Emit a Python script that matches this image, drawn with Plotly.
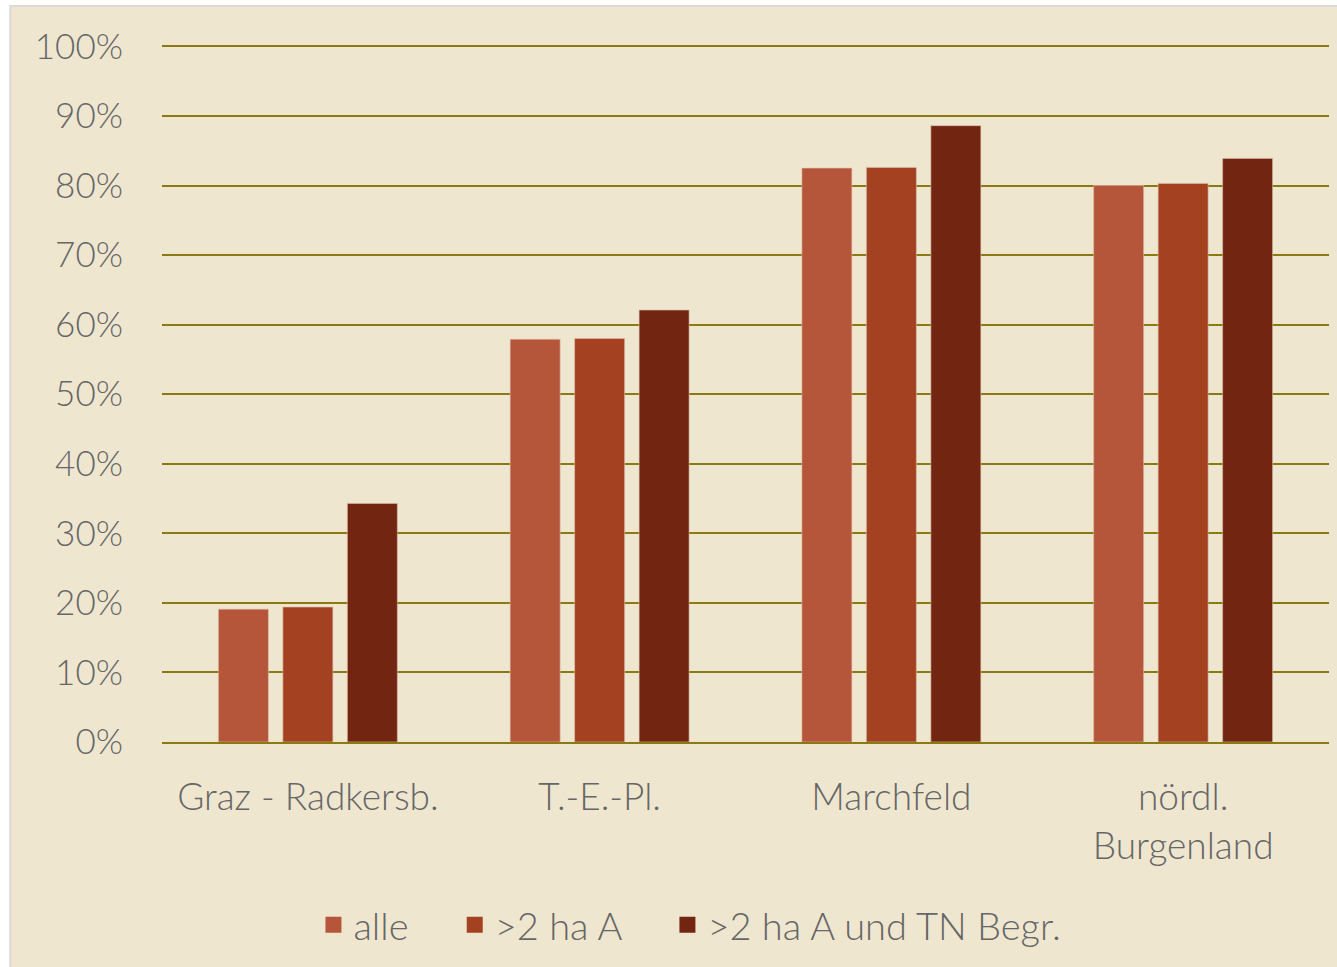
import plotly.graph_objects as go

categories = ["Graz - Radkersb.", "T.-E.-Pl.", "Marchfeld", "nördl.<br>Burgenland"]
alle = [19.1, 57.9, 82.5, 80.0]
ha2 = [19.4, 58.0, 82.6, 80.3]
tn = [34.3, 62.1, 88.6, 83.9]
series_names = ["alle", ">2 ha A", ">2 ha A und TN Begr."]
colors = ["#B5553A", "#A34120", "#722612"]
y_ticks = list(range(0, 101, 10))
y_ticktext = [f"{v}%" for v in y_ticks]

fig = go.Figure()
for name, vals, col in zip(series_names, [alle, ha2, tn], colors):
    fig.add_trace(go.Bar(x=categories, y=vals, name=name, marker_color=col,
                         marker_line_color="rgba(220,190,170,0.6)", marker_line_width=1,
                         showlegend=False))
# legend entries with square swatches
pads = ["\u00a0\u00a0\u00a0\u00a0", "\u00a0\u00a0\u00a0\u00a0", ""]
for name, col, pad in zip(series_names, colors, pads):
    fig.add_trace(go.Scatter(x=[None], y=[None], mode="markers", name=name + pad,
                             marker=dict(symbol="square", size=24, color=col)))

font_fam = "Lato, 'Open Sans', sans-serif"
fig.update_layout(
    width=1337, height=967,
    margin=dict(l=162, r=8, t=45, b=225),
    paper_bgcolor="white", plot_bgcolor="rgba(0,0,0,0)",
    barmode="group", bargap=0.337, bargroupgap=0.225,
    font=dict(family=font_fam, color="#666666", weight=300),
    showlegend=True,
    legend=dict(orientation="h", x=0.4524, xanchor="center", y=-0.2626, yanchor="middle",
                font=dict(size=38, color="#666666", weight=300), bgcolor="rgba(0,0,0,0)",
                itemsizing="trace", itemwidth=30),
    shapes=[dict(type="rect", xref="paper", yref="paper", x0=-0.130, x1=1.0094,
                 y0=-0.327, y1=1.056, fillcolor="#EFE6D0",
                 line=dict(color="#D9D9D9", width=2), layer="below")],
)
fig.update_yaxes(range=[0, 100.2], tickmode="array", tickvals=y_ticks, ticktext=y_ticktext,
                 showgrid=True, gridcolor="#8B7A12", gridwidth=2, zeroline=False,
                 tickfont=dict(size=35, color="#666666", weight=300), ticklabelstandoff=38,
                 showline=False)
fig.update_xaxes(showline=True, linecolor="#8B7A12", linewidth=2,
                 tickfont=dict(size=37, color="#666666", weight=300), ticklabelstandoff=22)

fig.write_html("out.html")
